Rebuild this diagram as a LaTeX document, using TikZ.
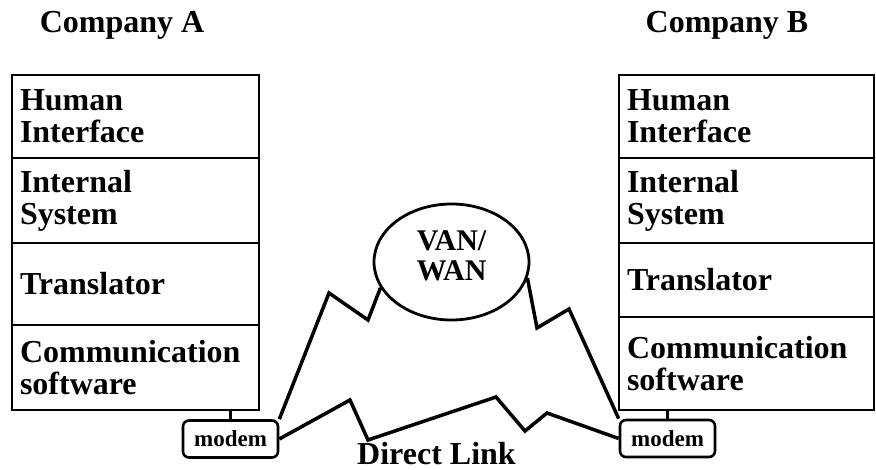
\documentclass[tikz,border=0pt]{standalone}
\usepackage{fontspec}
\setmainfont{Liberation Serif}
\usetikzlibrary{shapes.geometric}
\begin{document}
\begin{tikzpicture}[x=1pt,y=-1pt,
  big/.style={font=\fontsize{32}{32}\selectfont\bfseries},
  layer/.style={draw, line width=2.8pt, rectangle, inner xsep=8pt, inner ysep=0pt, align=left, big},
  layerA/.style={layer, text width=231pt},
  layerB/.style={layer, text width=239pt},
  modembox/.style={draw, line width=2.6pt, rounded corners=6pt, minimum width=95pt, minimum height=37pt, inner sep=0pt, font=\fontsize{23}{23}\selectfont\bfseries},
  cloud/.style={draw, ellipse, line width=2.8pt, minimum width=155pt, minimum height=116pt, inner sep=0pt},
  link/.style={line width=3.5pt, line join=miter},
  stub/.style={line width=2.2pt}]
\useasboundingbox (0,0) rectangle (876,470);

% titles
\node[big, anchor=base] (ca) at (122,33) {Company A};
\node[big, anchor=base] (cb) at (727,33) {Company B};

% company A stack
\node[layerA, minimum height=83pt] (a1) at (135.5,116.5) {Human\\Interface};
\node[layerA, minimum height=85pt] (a2) at (135.5,200.5) {Internal\\System};
\node[layerA, minimum height=82pt] (a3) at (135.5,284) {Translator};
\node[layerA, minimum height=85pt] (a4) at (135.5,367.5) {Communication\\software};

% company B stack
\node[layerB, minimum height=83pt] (b1) at (746.5,116.5) {Human\\Interface};
\node[layerB, minimum height=85pt] (b2) at (746.5,200.5) {Internal\\System};
\node[layerB, minimum height=74pt] (b3) at (746.5,280) {Translator};
\node[layerB, minimum height=93pt] (b4) at (746.5,363.5) {Communication\\software};

% modems
\node[modembox] (ma) at (230.5,439) {modem};
\node[modembox] (mb) at (667.5,438.5) {modem};
\draw[stub] (ma.north) -- (ma.north |- a4.south);
\draw[stub] (mb.north) -- (mb.north |- b4.south);

% VAN/WAN
\node[cloud] (van) at (451.5,262) {};
\node[font=\fontsize{30}{30}\selectfont\bfseries, align=center, inner sep=0pt] (vantext) at (451.5,256) {VAN/\\WAN};

% zigzag links
\coordinate (p1) at (329,293);
\coordinate (p2) at (368,320);
\draw[link] (ma.north east) -- (p1) -- (p2) -- (van.200);

\coordinate (q1) at (537,328);
\coordinate (q2) at (569,309);
\draw[link] (van.348) -- (q1) -- (q2) -- (mb.north west);

\coordinate (d1) at (350,400);
\coordinate (d2) at (368,440);
\coordinate (d3) at (496,397);
\coordinate (d4) at (525,431);
\coordinate (d5) at (547,413);
\draw[link] (ma.east) -- (d1) -- (d2) -- (d3) -- (d4) -- (d5) -- (mb.west);

\node[big, anchor=base] (dl) at (436.5,464) {Direct Link};
\end{tikzpicture}
\end{document}
